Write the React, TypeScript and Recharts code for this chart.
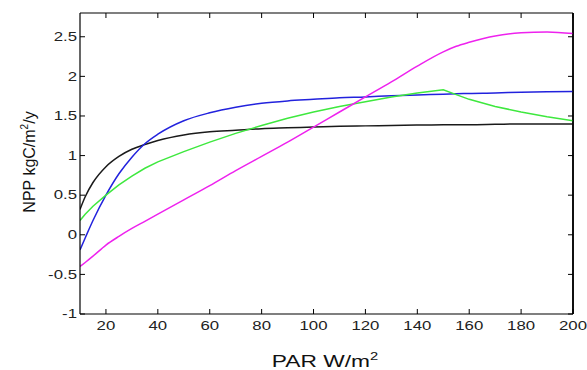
import React from "react";
import { LineChart, Line, XAxis, YAxis, ReferenceLine, CartesianGrid } from "recharts";

const parValues = [10, 12, 15, 20, 25, 30, 35, 40, 50, 60, 70, 80, 90, 100, 110, 120, 130, 140, 150, 155, 160, 170, 180, 190, 200];
const blackSeries = [0.32, 0.48, 0.66, 0.86, 0.99, 1.08, 1.14, 1.19, 1.26, 1.3, 1.32, 1.34, 1.35, 1.36, 1.37, 1.375, 1.38, 1.385, 1.39, 1.39, 1.39, 1.395, 1.4, 1.4, 1.4];
const blueSeries = [-0.19, -0.04, 0.18, 0.5, 0.77, 0.98, 1.15, 1.27, 1.44, 1.54, 1.61, 1.66, 1.69, 1.71, 1.73, 1.74, 1.755, 1.765, 1.775, 1.78, 1.785, 1.79, 1.8, 1.805, 1.81];
const greenSeries = [0.18, 0.26, 0.36, 0.5, 0.63, 0.74, 0.84, 0.92, 1.05, 1.17, 1.28, 1.38, 1.47, 1.55, 1.62, 1.68, 1.74, 1.79, 1.83, 1.77, 1.71, 1.62, 1.55, 1.49, 1.44];
const magentaSeries = [-0.4, -0.35, -0.27, -0.13, -0.02, 0.08, 0.17, 0.26, 0.44, 0.62, 0.81, 0.99, 1.17, 1.36, 1.55, 1.74, 1.93, 2.13, 2.31, 2.38, 2.43, 2.51, 2.55, 2.56, 2.54];

const xTicks = [20, 40, 60, 80, 100, 120, 140, 160, 180, 200];
const yTicks = [-1, -0.5, 0, 0.5, 1, 1.5, 2, 2.5];
const xMax = 200;

const data = parValues.map((x, i) => ({
  x,
  black: blackSeries[i],
  blue: blueSeries[i],
  green: greenSeries[i],
  magenta: magentaSeries[i],
}));

const FONT = "'Liberation Sans', Arial, Helvetica, sans-serif";

const XTick = (props: any) => {
  const { x, y, payload } = props;
  return (
    <text
      transform={`translate(${x},${y + 16}) scale(1.4,1)`}
      textAnchor="middle"
      fontFamily={FONT}
      fontSize={12}
      fill="#222"
    >
      {payload.value}
    </text>
  );
};

const YTick = (props: any) => {
  const { x, y, payload } = props;
  return (
    <text
      transform={`translate(${x},${y + 4.3}) scale(1.4,1)`}
      textAnchor="end"
      fontFamily={FONT}
      fontSize={12}
      fill="#222"
    >
      {payload.value}
    </text>
  );
};

const Empty = () => <g />;

const XLabel = () => (
  <text
    transform="translate(325,367) scale(1.34,1)"
    textAnchor="middle"
    fontFamily={FONT}
    fontSize={17}
    fill="#111"
  >
    PAR W/m
    <tspan dy={-7} fontSize={11}>2</tspan>
  </text>
);

const YLabel = () => (
  <text
    transform="translate(35,162) rotate(-90)"
    textAnchor="middle"
    fontFamily={FONT}
    fontSize={16}
    fill="#111"
  >
    NPP kgC/m
    <tspan dy={-7} fontSize={10}>2</tspan>
    <tspan dy={7}>/y</tspan>
  </text>
);

const axisLine = { stroke: "#000", strokeWidth: 1.2 };
const tickLine = { stroke: "#000" };

export default function App() {
  return (
    <div style={{ position: "absolute", left: 0, top: 0, background: "#fff" }}>
      <LineChart
        width={587}
        height={370}
        data={data}
        margin={{ top: 12, right: 8, bottom: 0, left: 0 }}
      >
        <CartesianGrid
          xAxisId="bottom"
          yAxisId="left"
          horizontal={false}
          vertical={true}
          stroke="#000"
          strokeWidth={1.2}
          verticalCoordinatesGenerator={({ offset }: any) => [offset.left + offset.width]}
        />
        <XAxis
          xAxisId="bottom"
          dataKey="x"
          type="number"
          domain={[10, 200]}
          ticks={xTicks}
          allowDataOverflow
          height={56}
          tickSize={-5}
          tickMargin={5}
          tick={XTick}
          axisLine={axisLine}
          tickLine={tickLine}
          label={{ content: XLabel }}
        />
        <XAxis
          xAxisId="top"
          dataKey="x"
          type="number"
          orientation="top"
          domain={[10, 200]}
          ticks={xTicks}
          allowDataOverflow
          height={1}
          tickSize={-5}
          tick={Empty}
          axisLine={axisLine}
          tickLine={tickLine}
        />
        <YAxis
          yAxisId="left"
          type="number"
          domain={[-1, 2.8]}
          ticks={yTicks}
          allowDataOverflow
          width={80}
          tickSize={-5}
          tickMargin={8}
          tick={YTick}
          axisLine={axisLine}
          tickLine={tickLine}
          label={{ content: YLabel }}
        />
        <YAxis
          yAxisId="right"
          orientation="right"
          type="number"
          domain={[-1, 2.8]}
          ticks={yTicks}
          allowDataOverflow
          width={6}
          tickSize={-5}
          tickMargin={0}
          tickFormatter={() => ""}
          axisLine={axisLine}
          tickLine={tickLine}
        />
        <ReferenceLine xAxisId="bottom" yAxisId="left" x={xMax} stroke="#000" strokeWidth={1.2} ifOverflow="visible" />
        <Line xAxisId="bottom" yAxisId="left" type="monotone" dataKey="black" stroke="#1a1a1a" strokeWidth={1.5} dot={false} isAnimationActive={false} />
        <Line xAxisId="bottom" yAxisId="left" type="monotone" dataKey="blue" stroke="#2222dd" strokeWidth={1.5} dot={false} isAnimationActive={false} />
        <Line xAxisId="top" yAxisId="right" type="linear" dataKey="green" stroke="#3ee83e" strokeWidth={1.5} dot={false} isAnimationActive={false} />
        <Line xAxisId="bottom" yAxisId="left" type="monotone" dataKey="magenta" stroke="#ee22ee" strokeWidth={1.5} dot={false} isAnimationActive={false} />
      </LineChart>
    </div>
  );
}
